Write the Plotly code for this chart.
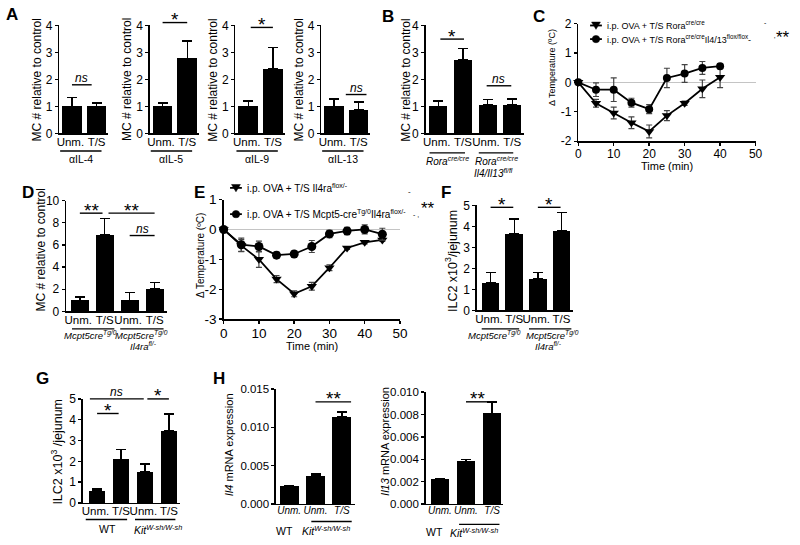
import plotly.graph_objects as go

W, H = 800, 545
FONT = "Liberation Sans, Arial, Helvetica, sans-serif"
NB = "\u00a0"

# ---------------- data ----------------
cats_2 = ["Unm.", "T/S"]
cats_4 = ["Unm.", "T/S", "Unm.", "T/S"]
cats_h = ["<i>Unm.</i>", "<i>Unm.</i>", "<i>T/S</i>"]

a_il4_mean = [1.0, 1.0]
a_il4_err = [0.33, 0.12]
a_il5_mean = [1.0, 2.78]
a_il5_err = [0.12, 0.65]
a_il9_mean = [1.0, 2.4]
a_il9_err = [0.2, 0.78]
a_il13_mean = [1.0, 0.87]
a_il13_err = [0.28, 0.3]
b_mean = [1.0, 2.72, 1.07, 1.05]
b_err = [0.2, 0.42, 0.18, 0.22]

c_time = [0, 5, 10, 15, 20, 25, 30, 35, 40]
c_rora = [0, -0.71, -1.04, -1.37, -1.67, -1.13, -0.71, -0.22, 0.17]
c_rora_err = [0, 0.13, 0.2, 0.2, 0.22, 0.17, 0.07, 0.3, 0.35]
c_rora_il = [0, -0.25, -0.25, -0.69, -0.91, 0.15, 0.30, 0.49, 0.55]
c_rora_il_err = [0, 0.23, 0.4, 0.15, 0.15, 0.33, 0.3, 0.22, 0.08]
c_xticks = [0, 10, 20, 30, 40, 50]
c_yticks = [-2, -1, 0, 1, 2]
c_yticklabels = ["-2", "-1", "0", "1", "2"]

d_mean = [1.0, 6.9, 1.0, 2.05]
d_err = [0.28, 1.5, 0.7, 0.53]

e_time = [0, 5, 10, 15, 20, 25, 30, 35, 40, 45]
e_il4ra = [0, -0.54, -1.0, -1.66, -2.15, -1.9, -1.28, -0.62, -0.43, -0.35]
e_il4ra_err = [0, 0.2, 0.27, 0.12, 0.1, 0.13, 0.1, 0.05, 0.05, 0.05]
e_mcpt = [0, -0.51, -0.57, -0.86, -0.82, -0.57, -0.15, -0.05, 0.0, -0.16]
e_mcpt_err = [0, 0.22, 0.18, 0.1, 0.1, 0.2, 0.12, 0.12, 0.15, 0.2]
e_xticks = [0, 10, 20, 30, 40, 50]
e_yticks = [-3, -2, -1, 0, 1]
e_yticklabels = ["-3", "-2", "-1", "0", "1"]

f_mean = [1.3, 3.65, 1.5, 3.8]
f_err = [0.5, 0.7, 0.3, 0.85]
g_mean = [0.58, 2.1, 1.48, 3.48]
g_err = [0.1, 0.47, 0.4, 0.8]
h_il4_mean = [0.0023, 0.0037, 0.0114]
h_il4_err = [0.0001, 0.00022, 0.0006]
h_il13_mean = [0.0022, 0.0038, 0.0081]
h_il13_err = [0.0001, 0.0002, 0.001]

# ---------------- helpers ----------------
fig = go.Figure()
layout_axes = {}
panels = {}
shapes = []
annots = []
count = [0]


def PX(px):
    return px / W


def PY(py):
    return 1 - py / H


def make_axes(name, l, r, t, b, xr, yr, xkw, ykw):
    count[0] += 1
    i = count[0]
    sx = "" if i == 1 else str(i)
    base = dict(showgrid=False, zeroline=False, showline=True, linecolor="black",
                linewidth=1.4, ticks="outside", ticklen=3, tickwidth=1.4,
                tickcolor="black", fixedrange=True, tickangle=0, showticklabels=True)
    xa = dict(base, domain=[l / W, r / W], range=xr, anchor="y" + sx)
    xa.update(xkw)
    ya = dict(base, domain=[1 - b / H, 1 - t / H], range=yr, anchor="x" + sx)
    ya.update(ykw)
    layout_axes["xaxis" + sx] = xa
    layout_axes["yaxis" + sx] = ya
    panels[name] = dict(l=l, r=r, t=t, b=b, xr=xr, yr=yr)
    return "x" + sx, "y" + sx


def xpx(name, xv):
    g = panels[name]
    return g["l"] + (xv - g["xr"][0]) / (g["xr"][1] - g["xr"][0]) * (g["r"] - g["l"])


def text(px, py, s, size=12, angle=0, xanchor="center", italic=False, bold=False):
    if italic:
        s = "<i>" + s + "</i>"
    if bold:
        s = "<b>" + s + "</b>"
    annots.append(dict(x=PX(px), y=PY(py), xref="paper", yref="paper", text=s,
                       showarrow=False, xanchor=xanchor, yanchor="middle",
                       textangle=angle, font=dict(size=size, family=FONT, color="black")))


def hline(x0, x1, py, w=1.4):
    shapes.append(dict(type="line", xref="paper", yref="paper", x0=PX(x0), x1=PX(x1),
                       y0=PY(py), y1=PY(py), line=dict(color="black", width=w)))


def bar_panel(name, l, c0, unit, r, t, b, ymax, dtick, cats, means, errs, barw,
              tsize=11.5, yfmt=None, ysize=12, pad=True):
    xr = [(l - c0) / unit, (r - c0) / unit]
    xs = list(range(len(cats)))
    labels = [(c + NB) if (pad and c.startswith("Unm")) else c for c in cats]
    xkw = dict(tickvals=xs, ticktext=labels, ticks="", ticklabelstandoff=-3,
               tickfont=dict(size=tsize, family=FONT, color="black"))
    ykw = dict(dtick=dtick, tick0=0, tickfont=dict(size=ysize, family=FONT, color="black"))
    if yfmt:
        ykw["tickformat"] = yfmt
    xref, yref = make_axes(name, l, r, t, b, xr, [0, ymax], xkw, ykw)
    fig.add_trace(go.Bar(x=xs, y=means, width=barw, xaxis=xref, yaxis=yref,
                         marker=dict(color="black", line=dict(width=0)),
                         error_y=dict(type="data", array=errs, arrayminus=[0] * len(errs),
                                      symmetric=False, color="black", thickness=1.4, width=5)))


def sig(name, i0, i1, py, label):
    x0, x1 = xpx(name, i0), xpx(name, i1)
    hline(x0, x1, py)
    if label == "ns":
        text((x0 + x1) / 2, py - 7, "ns", size=12, italic=True)
    else:
        text((x0 + x1) / 2, py - 3, label, size=19)


# ---------------- Panel A ----------------
a_sets = [("A1", 56, a_il4_mean, a_il4_err, "αIL-4"),
          ("A2", 148, a_il5_mean, a_il5_err, "αIL-5"),
          ("A3", 235, a_il9_mean, a_il9_err, "αIL-9"),
          ("A4", 322, a_il13_mean, a_il13_err, "αIL-13")]
for nm, x0, m, e, lab in a_sets:
    bar_panel(nm, x0, x0 + 13, 25, x0 + 50, 19, 130, 4, 1, cats_2, m, e, 0.8)
    hline(x0 + 1, x0 + 43, 148)
    text(x0 + 22, 156.5, lab, size=10.5)
    text(x0 - 23, 75, "MC # relative to control", size=12, angle=-90)

sig("A1", 0.0, 0.8, 80, "ns")
sig("A2", 0.0, 1.0, 16, "*")
sig("A3", 0.1, 1.0, 21, "*")
sig("A4", 0.48, 1.32, 90, "ns")

# ---------------- Panel B ----------------
bar_panel("B", 428, 441, 25, 528, 19, 130, 4, 1, cats_4, b_mean, b_err, 0.74)
text(408, 75, "MC # relative to control", size=12, angle=-90)
sig("B", 0.08, 1.04, 33, "*")
sig("B", 1.96, 2.96, 81, "ns")
hline(432, 468, 150)
hline(482, 517, 150)
text(450, 158.5, "Rora<sup>cre/cre</sup>", size=10, italic=True)
text(500, 158.5, "Rora<sup>cre/cre</sup>", size=10, italic=True)
text(497, 170.5, "Il4/Il13<sup>fl/fl</sup>", size=10, italic=True)

# ---------------- Panel C ----------------
xc, yc = make_axes("C", 583, 763, 17, 138, [0, 50], [-2, 2],
                   dict(tickvals=c_xticks, ticklabelstandoff=-2,
                        tickfont=dict(size=12, family=FONT, color="black")),
                   dict(tickvals=c_yticks, ticktext=c_yticklabels, zeroline=True,
                        zerolinecolor="#c4c4c4", zerolinewidth=1,
                        tickfont=dict(size=12, family=FONT, color="black")))
fig.add_trace(go.Scatter(x=c_time, y=c_rora, xaxis=xc, yaxis=yc, mode="lines+markers",
                         cliponaxis=False, line=dict(color="black", width=1.8),
                         marker=dict(symbol="triangle-down", size=9, color="black"),
                         error_y=dict(type="data", array=c_rora_err, color="#444",
                                      thickness=1.2, width=3)))
fig.add_trace(go.Scatter(x=c_time, y=c_rora_il, xaxis=xc, yaxis=yc, mode="lines+markers",
                         cliponaxis=False, line=dict(color="black", width=1.8),
                         marker=dict(symbol="circle", size=8, color="black"),
                         error_y=dict(type="data", array=c_rora_il_err, color="#444",
                                      thickness=1.2, width=3)))
text(557, 62, "Δ Temperature (ºC)", size=9, angle=-90)
text(673, 164, "Time (min)", size=11)


def legend_key(xc_, yc_, sym, lw=12):
    hline(xc_ - lw / 2, xc_ + lw / 2, yc_, w=1.8)
    if sym == "tri":
        pts = [(xc_ - 4.5, yc_ - 3.5), (xc_ + 4.5, yc_ - 3.5), (xc_, yc_ + 4)]
        path = "M" + " L".join("%f,%f" % (PX(a), PY(b)) for a, b in pts) + " Z"
        shapes.append(dict(type="path", xref="paper", yref="paper", path=path,
                           fillcolor="black", line=dict(color="black", width=0.5)))
    else:
        shapes.append(dict(type="circle", xref="paper", yref="paper",
                           x0=PX(xc_ - 3.8), x1=PX(xc_ + 3.8), y0=PY(yc_ + 3.8), y1=PY(yc_ - 3.8),
                           fillcolor="black", line=dict(color="black", width=0.5)))


legend_key(601, 19, "tri")
legend_key(601, 33, "circ")
text(610, 19, "i.p. OVA + T/S Rora<sup>cre/cre</sup>", size=9, xanchor="left")
text(610, 33, "i.p. OVA + T/S Rora<sup>cre/cre</sup>Il4/13<sup>flox/flox</sup>-", size=9, xanchor="left")
text(773, 16, "-", size=7)
text(782, 33, "'", size=7)
text(791, 31, "**", size=17)

# ---------------- Panel D ----------------
bar_panel("D", 63, 77, 25.3, 165, 199, 313, 10, 2, cats_4, d_mean, d_err, 0.72)
text(38, 250, "MC # relative to control", size=12, angle=-90)
sig("D", 0.0, 0.91, 212, "**")
sig("D", 1.15, 3.0, 212, "**")
sig("D", 2.0, 3.0, 235, "ns")
hline(69, 112, 331)
hline(118, 162, 331)
text(88, 337, "Mcpt5cre<sup>Tg/0</sup>", size=9.5, italic=True)
text(140, 337, "Mcpt5cre<sup>Tg/0</sup>", size=9.5, italic=True)
text(142, 349, "Il4ra<sup>fl/-</sup>", size=9.5, italic=True)

# ---------------- Panel E ----------------
xe, ye = make_axes("E", 223, 402, 198, 321, [0, 50], [-3, 1],
                   dict(tickvals=e_xticks, ticklabelstandoff=-2,
                        tickfont=dict(size=13.5, family=FONT, color="black")),
                   dict(tickvals=e_yticks, ticktext=e_yticklabels, zeroline=True,
                        zerolinecolor="#c4c4c4", zerolinewidth=1,
                        tickfont=dict(size=13.5, family=FONT, color="black")))
fig.add_trace(go.Scatter(x=e_time, y=e_il4ra, xaxis=xe, yaxis=ye, mode="lines+markers",
                         cliponaxis=False, line=dict(color="black", width=1.8),
                         marker=dict(symbol="triangle-down", size=9, color="black"),
                         error_y=dict(type="data", array=e_il4ra_err, color="#444",
                                      thickness=1.2, width=3)))
fig.add_trace(go.Scatter(x=e_time, y=e_mcpt, xaxis=xe, yaxis=ye, mode="lines+markers",
                         cliponaxis=False, line=dict(color="black", width=1.8),
                         marker=dict(symbol="circle", size=9, color="black"),
                         error_y=dict(type="data", array=e_mcpt_err, color="#444",
                                      thickness=1.2, width=3)))
text(200, 256, "Δ Temperature (ºC)", size=10, angle=-90)
text(313, 349, "Time (min)", size=11)
legend_key(235.5, 186, "tri")
legend_key(235.5, 213, "circ")
text(245, 186, "i.p. OVA + T/S Il4ra<sup>flox/-</sup>", size=10, xanchor="left")
text(245, 213, "i.p. OVA + T/S Mcpt5-cre<sup>Tg/0</sup>Il4ra<sup>flox/-</sup>", size=10, xanchor="left")
text(412, 190, "-", size=8)
text(418, 213, "- ,", size=7)
text(430, 207, "**", size=17)

# ---------------- Panel F ----------------
bar_panel("F", 480, 494, 24, 578, 204, 312, 5, 1, cats_4, f_mean, f_err, 0.75)
text(454, 261, "ILC2 x10<sup>3</sup>/jejunum", size=12.5, angle=-90)
sig("F", 0.0, 0.96, 206, "*")
sig("F", 2.0, 2.96, 206, "*")
hline(485, 523, 331)
hline(533, 576, 331)
text(498, 337, "Mcpt5cre<sup>Tg/0</sup>", size=9.5, italic=True)
text(557, 337, "Mcpt5cre<sup>Tg/0</sup>", size=9.5, italic=True)
text(553, 349, "Il4ra<sup>fl/-</sup>", size=9.5, italic=True)

# ---------------- Panel G ----------------
bar_panel("G", 80, 94.5, 24.3, 179, 403, 510, 5, 1, cats_4, g_mean, g_err, 0.7)
text(54, 457, "ILC2 x10<sup>3</sup> /jejunum", size=12.5, angle=-90)
sig("G", -0.3, 1.95, 403, "ns")
sig("G", 0.0, 0.9, 418, "*")
sig("G", 2.1, 3.0, 403, "*")
hline(83, 125, 527)
hline(133, 174, 527)
text(105, 537, "WT", size=10.5)
text(156, 537, "<i>Kit<sup>W-sh/W-sh</sup></i>", size=10.5)

# ---------------- Panel H ----------------
bar_panel("H1", 276, 289.5, 26.75, 356, 393, 511, 0.015, 0.005, cats_h, h_il4_mean, h_il4_err,
          0.71, tsize=10, yfmt=".3f", ysize=11.5, pad=False)
bar_panel("H2", 428, 442.5, 26.5, 507, 396, 511, 0.010, 0.002, cats_h, h_il13_mean, h_il13_err,
          0.69, tsize=10, yfmt=".3f", ysize=11.5, pad=False)
text(228, 450, "<i>Il4</i> mRNA expression", size=11, angle=-90)
text(386, 447, "<i>Il13</i> mRNA expression", size=11, angle=-90)
sig("H1", 1.0, 2.35, 406, "**")
sig("H2", 1.0, 1.85, 406, "**")
hline(312, 353, 529)
hline(462, 503, 532)
text(285, 538.5, "WT", size=10.5)
text(327, 538.5, "<i>Kit<sup>W-sh/W-sh</sup></i>", size=10.5)
text(437, 540, "WT", size=10.5)
text(477, 540, "<i>Kit<sup>W-sh/W-sh</sup></i>", size=10.5)

# ---------------- panel letters ----------------
for lt, x, y in [("A", 8, 8), ("B", 390, 10), ("C", 543, 10), ("D", 24, 191), ("E", 198, 191),
                 ("F", 449, 191), ("G", 39, 382), ("H", 218, 382)]:
    text(x, y, lt, size=17, bold=True)

fig.update_layout(width=W, height=H, margin=dict(l=0, r=0, t=0, b=0),
                  paper_bgcolor="white", plot_bgcolor="white", showlegend=False,
                  bargap=0, font=dict(family=FONT, color="black"),
                  shapes=shapes, annotations=annots, **layout_axes)
fig.write_html("out.html", config={"displayModeBar": False, "staticPlot": True},
               post_script="document.body.style.margin='0';"
                           "document.documentElement.style.overflow='hidden';")
